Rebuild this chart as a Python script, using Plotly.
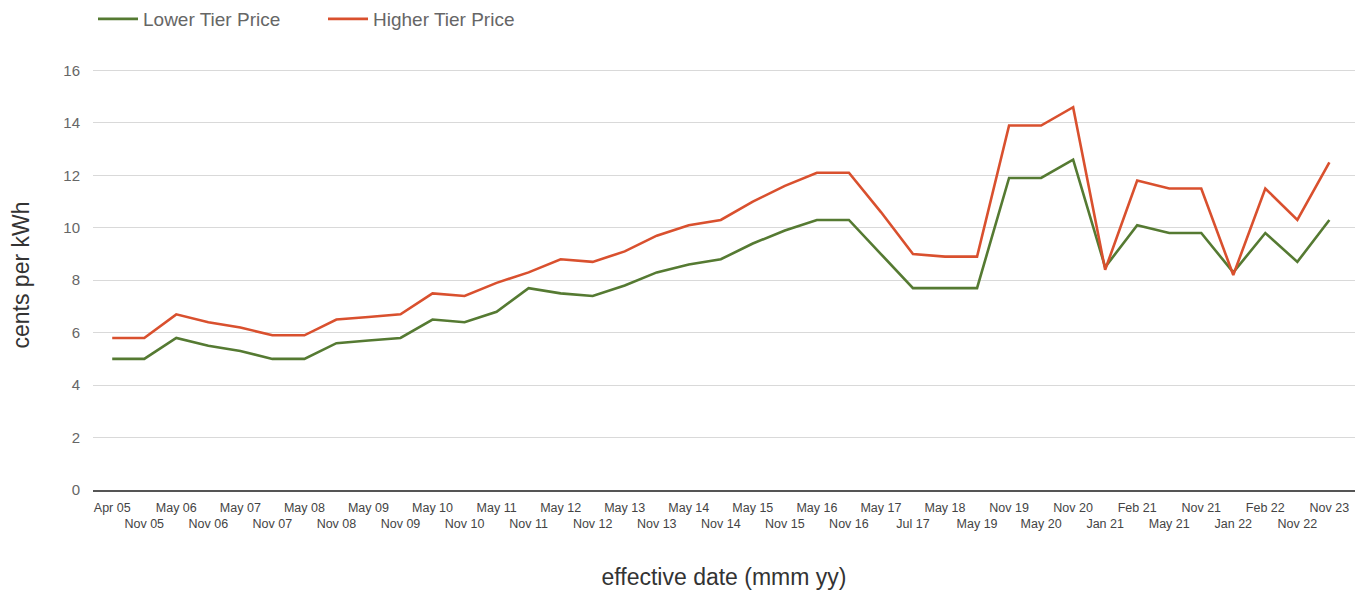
import plotly.graph_objects as go

# Effective dates of each price change
dates = [
    "Apr 05", "Nov 05", "May 06", "Nov 06", "May 07", "Nov 07", "May 08", "Nov 08",
    "May 09", "Nov 09", "May 10", "Nov 10", "May 11", "Nov 11", "May 12", "Nov 12",
    "May 13", "Nov 13", "May 14", "Nov 14", "May 15", "Nov 15", "May 16", "Nov 16",
    "May 17", "Jul 17", "May 18", "May 19", "Nov 19", "May 20", "Nov 20", "Jan 21",
    "Feb 21", "May 21", "Nov 21", "Jan 22", "Feb 22", "Nov 22", "Nov 23",
]

# Prices in cents per kWh
lower_tier = [
    5.0, 5.0, 5.8, 5.5, 5.3, 5.0, 5.0, 5.6,
    5.7, 5.8, 6.5, 6.4, 6.8, 7.7, 7.5, 7.4,
    7.8, 8.3, 8.6, 8.8, 9.4, 9.9, 10.3, 10.3,
    9.0, 7.7, 7.7, 7.7, 11.9, 11.9, 12.6, 8.5,
    10.1, 9.8, 9.8, 8.3, 9.8, 8.7, 10.3,
]
higher_tier = [
    5.8, 5.8, 6.7, 6.4, 6.2, 5.9, 5.9, 6.5,
    6.6, 6.7, 7.5, 7.4, 7.9, 8.3, 8.8, 8.7,
    9.1, 9.7, 10.1, 10.3, 11.0, 11.6, 12.1, 12.1,
    10.6, 9.0, 8.9, 8.9, 13.9, 13.9, 14.6, 8.4,
    11.8, 11.5, 11.5, 8.2, 11.5, 10.3, 12.5,
]

y_ticks = [0, 2, 4, 6, 8, 10, 12, 14, 16]

FONT = "Liberation Sans, Arial, sans-serif"

idx = list(range(len(dates)))
# Alternate tick labels between two rows
tick_text = [d if i % 2 == 0 else "<br>" + d for i, d in enumerate(dates)]

fig = go.Figure()
fig.add_trace(go.Scatter(
    x=idx, y=lower_tier, mode="lines", name="Lower Tier Price",
    line=dict(color="#557a32", width=2.6),
))
fig.add_trace(go.Scatter(
    x=idx, y=higher_tier, mode="lines", name="Higher Tier Price",
    line=dict(color="#d9502e", width=2.6),
))

fig.update_layout(
    width=1367, height=590,
    margin=dict(l=93, r=12, t=60, b=100),
    paper_bgcolor="white", plot_bgcolor="white",
    font=dict(family=FONT, color="#555"),
    showlegend=True,
    legend=dict(
        orientation="h", x=0, xanchor="left", y=1.0, yref="container",
        yanchor="top", font=dict(size=19, color="#666"),
        itemwidth=40, entrywidth=175, entrywidthmode="pixels",
        bgcolor="rgba(0,0,0,0)",
    ),
    xaxis=dict(
        range=[-0.6, 38.8], automargin=False,
        tickmode="array", tickvals=idx, ticktext=tick_text, tickangle=0,
        tickfont=dict(size=12.5, color="#444"),
        ticklabelstandoff=5,
        showgrid=False, zeroline=False,
        showline=True, linecolor="#555", linewidth=2, ticks="",
        title=dict(text="effective date (mmm yy)", font=dict(size=23, color="#333"),
                   standoff=40),
    ),
    yaxis=dict(
        range=[0, 16.4], automargin=False,
        tickmode="array", tickvals=y_ticks,
        tickfont=dict(size=15, color="#666"),
        showgrid=True, gridcolor="#d9d9d9", gridwidth=1,
        zeroline=False,
        ticks="", ticklabelstandoff=12,
        title=dict(text="cents per kWh", font=dict(size=23, color="#333"),
                   standoff=27),
    ),
)

fig.write_html("out.html")
